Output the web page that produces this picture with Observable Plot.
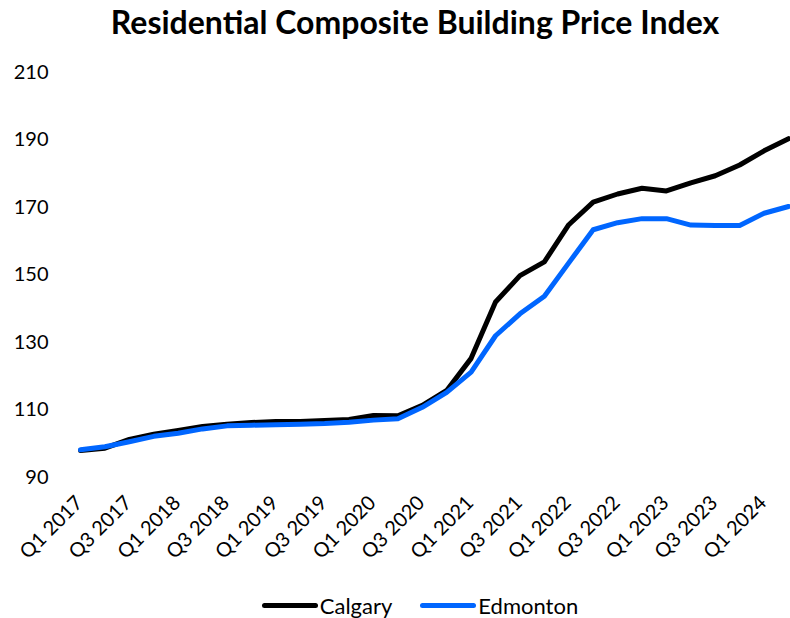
<!DOCTYPE html>
<html>
<head>
<meta charset="utf-8">
<script src="https://cdn.jsdelivr.net/npm/d3@7"></script>
<script src="https://cdn.jsdelivr.net/npm/@observablehq/plot@0.6"></script>
<style>
  html, body { margin: 0; padding: 0; background: #fff; }
  body { width: 790px; height: 618px; overflow: hidden; font-family: Lato, "Noto Sans", sans-serif; position: relative; }
  #title { position: absolute; left: 0; top: 0; width: 790px; height: 44px; line-height: 44px; text-align: center; font-weight: bold; font-size: 32px; color: #000; padding-left: 40px; box-sizing: border-box; white-space: nowrap; }
  #chart { position: absolute; left: 0; top: 50px; }
  #legend { position: absolute; left: 0; top: 592px; width: 790px; display: flex; justify-content: center; align-items: center; gap: 28px; font-size: 22px; color: #000; padding-left: 50px; box-sizing: border-box; }
  .item { display: flex; align-items: center; }
  .sw { width: 56px; height: 5px; border-radius: 3px; margin-right: 2px; }
</style>
</head>
<body>
<div id="title">Residential Composite Building Price Index</div>
<div id="chart"></div>
<div id="legend"></div>
<script>
const quarters = [
  "Q1 2017","Q2 2017","Q3 2017","Q4 2017",
  "Q1 2018","Q2 2018","Q3 2018","Q4 2018",
  "Q1 2019","Q2 2019","Q3 2019","Q4 2019",
  "Q1 2020","Q2 2020","Q3 2020","Q4 2020",
  "Q1 2021","Q2 2021","Q3 2021","Q4 2021",
  "Q1 2022","Q2 2022","Q3 2022","Q4 2022",
  "Q1 2023","Q2 2023","Q3 2023","Q4 2023",
  "Q1 2024","Q2 2024"
];
const calgary = [
  98.0, 98.7, 101.3, 102.8,
  103.9, 105.1, 105.8, 106.3,
  106.6, 106.6, 106.9, 107.2,
  108.4, 108.3, 111.4, 115.8,
  125.3, 142.0, 149.8, 153.9,
  164.9, 171.6, 174.0, 175.7,
  174.9, 177.3, 179.4, 182.6,
  186.8, 190.4
];
const edmonton = [
  98.2, 99.1, 100.6, 102.2,
  103.1, 104.4, 105.3, 105.5,
  105.6, 105.8, 106.0, 106.4,
  107.0, 107.4, 110.8, 115.2,
  121.2, 132.0, 138.5, 143.7,
  153.6, 163.4, 165.5, 166.7,
  166.7, 164.8, 164.7, 164.7,
  168.3, 170.3
];
const xTickLabels = quarters.filter((q, i) => i % 2 === 0);
const yTicks = [90, 110, 130, 150, 170, 190, 210];
const seriesNames = ["Calgary", "Edmonton"];
const seriesColors = ["#000000", "#0066ff"];

const rows = [];
quarters.forEach((q, i) => {
  rows.push({quarter: q, series: "Calgary", value: calgary[i]});
  rows.push({quarter: q, series: "Edmonton", value: edmonton[i]});
});

const chart = Plot.plot({
  width: 790,
  height: 530,
  marginTop: 22,
  marginBottom: 103,
  marginLeft: 69,
  marginRight: 0,
  style: {fontFamily: "Lato, 'Noto Sans', sans-serif", background: "#fff", overflow: "visible"},
  x: {type: "point", domain: quarters, range: [80, 788], padding: 0, round: false},
  y: {domain: [90, 210], range: [427, 22]},
  color: {domain: seriesNames, range: seriesColors},
  marks: [
    Plot.gridY(yTicks, {stroke: "#d9d9d9", strokeOpacity: 1, strokeWidth: 1.5, x1: 69, x2: 790}),
    Plot.axisY({ticks: yTicks, tickSize: 0, tickPadding: 21, fontSize: 20, label: null, color: "#000"}),
    Plot.axisX({ticks: xTickLabels, tickSize: 0, tickRotate: -45, textAnchor: "end", tickPadding: 22, dx: -1, fontSize: 20, label: null, color: "#000"}),
    Plot.line(rows, {x: "quarter", y: "value", z: "series", stroke: "series", strokeWidth: 5, strokeLinejoin: "round", strokeLinecap: "round"})
  ]
});
document.getElementById("chart").appendChild(chart);

const legend = document.getElementById("legend");
seriesNames.forEach((name, i) => {
  const item = document.createElement("div");
  item.className = "item";
  const sw = document.createElement("div");
  sw.className = "sw";
  sw.style.background = seriesColors[i];
  const label = document.createElement("span");
  label.textContent = name;
  item.appendChild(sw);
  item.appendChild(label);
  legend.appendChild(item);
});
</script>
</body>
</html>
